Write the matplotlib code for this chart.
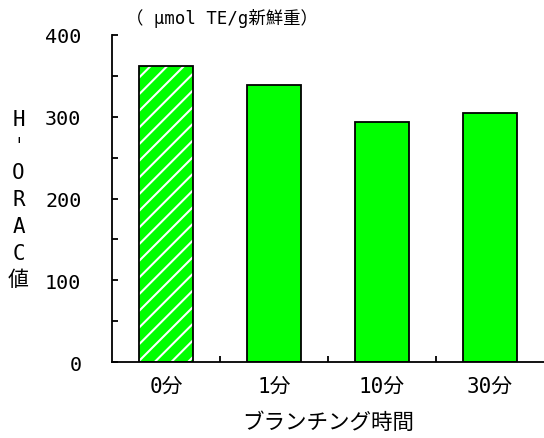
import numpy as np
import matplotlib
matplotlib.use("Agg")
import matplotlib.pyplot as plt

# latin in a monospace font, CJK falls back to Noto (MS Gothic look)
plt.rcParams['font.family'] = ['DejaVu Sans Mono', 'Noto Sans CJK JP']
plt.rcParams['hatch.linewidth'] = 1.5

# data
categories = ['0分', '1分', '10分', '30分']
horac = [362, 339, 293, 304]
xlabel = 'ブランチング時間'
ylabel = 'H\nˈ\nO\nR\nA\nC\n値'
unit = '（ μmol TE/g新鮮重）'

green = '#00ff00'

fig = plt.figure(figsize=(5.44, 4.39), dpi=100)
ax = fig.add_axes([0.2059, 0.1724, 0.7941, 0.7463])

x = np.arange(len(categories))

# first bar hatched (white stripes), others plain
bars = ax.bar(x, horac, width=0.5, color=green, edgecolor='none', zorder=2)
bars[0].set_hatch('//')
bars[0].set_edgecolor('white')
bars[0].set_linewidth(0)
ax.bar(x, horac, width=0.5, facecolor='none', edgecolor='black', linewidth=1.3, zorder=3)

ax.set_xlim(-0.5, 3.5)
ax.set_ylim(0, 400)

for s in ['top', 'right']:
    ax.spines[s].set_visible(False)
for s in ['left', 'bottom']:
    ax.spines[s].set_linewidth(1.3)

ax.set_yticks([0, 100, 200, 300, 400])
ax.set_yticks([50, 150, 250, 350], minor=True)
ax.tick_params(axis='y', which='both', direction='in', length=4.5, width=1.3,
               labelsize=14.5, pad=22)

ax.set_xticks(x)
ax.set_xticklabels(categories)
ax.set_xticks([0.5, 1.5, 2.5], minor=True)
ax.tick_params(axis='x', which='major', length=0, labelsize=15, pad=10)
ax.tick_params(axis='x', which='minor', direction='in', length=4.5, width=1.3)

ax.set_xlabel(xlabel, fontsize=15.5, labelpad=11)

fig.text(0.034, 0.544, ylabel, fontsize=15, ha='center', va='center',
         linespacing=1.42)
fig.text(0.232, 0.958, unit, fontsize=12.5, ha='left', va='center')

fig.savefig('out.png', dpi=100)
